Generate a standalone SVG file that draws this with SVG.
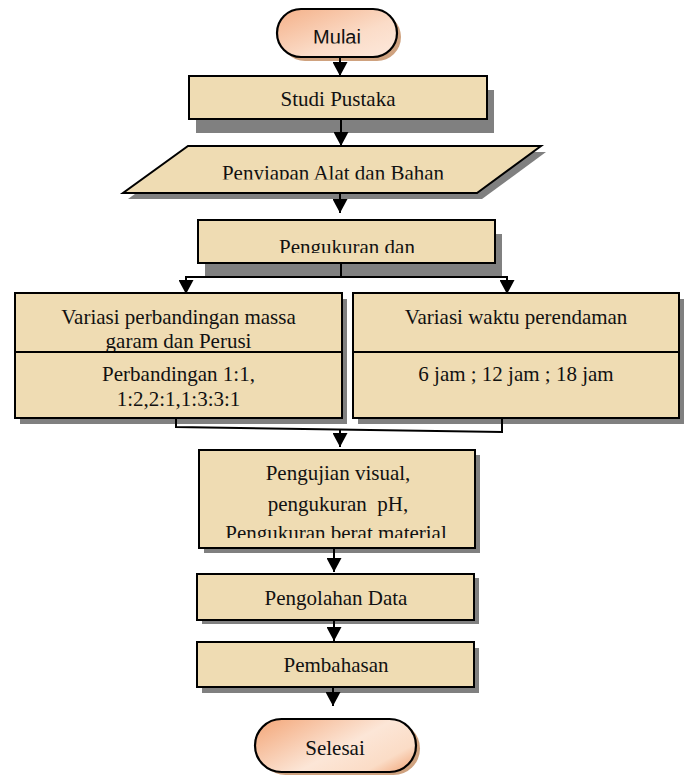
<svg xmlns="http://www.w3.org/2000/svg" width="686" height="776" viewBox="0 0 686 776">
<style>
.box{fill:#efdcb3;stroke:#000;stroke-width:2}
.sh{fill:#808080}
.tsh{fill:#cfa27f}
.term{stroke:#000;stroke-width:2.2}
.t{font-family:"Liberation Serif","Times New Roman",serif;font-size:21px;text-anchor:middle;fill:#111}
.s{font-family:"Liberation Sans",Arial,sans-serif;font-size:20px;text-anchor:middle;fill:#111}
.ln{stroke:#000;stroke-width:2;fill:none}
.div{stroke:#000;stroke-width:2}
</style>
<defs>
<marker id="arr" viewBox="0 0 14 15" refX="14" refY="7.5" markerWidth="15" markerHeight="15" markerUnits="userSpaceOnUse" orient="auto">
<path d="M0,0 L14,7.5 L0,15 z" fill="#000"/>
</marker>
<linearGradient id="g1" x1="0" y1="0" x2="1" y2="1">
<stop offset="0" stop-color="#f4b088"/>
<stop offset="0.6" stop-color="#fbdcc8"/>
<stop offset="1" stop-color="#fde9dc"/>
</linearGradient>
<linearGradient id="g2" x1="0" y1="0.2" x2="1" y2="0.8">
<stop offset="0" stop-color="#f4ae84"/>
<stop offset="0.55" stop-color="#fce6d7"/>
<stop offset="0.85" stop-color="#fbdcc6"/>
<stop offset="1" stop-color="#f4b690"/>
</linearGradient>
<clipPath id="c1"><rect x="0" y="0" width="686" height="43.5"/></clipPath>
<clipPath id="c2"><rect x="0" y="140" width="686" height="39.5"/></clipPath>
<clipPath id="c3"><rect x="0" y="220" width="686" height="33"/></clipPath>
<clipPath id="c4"><rect x="0" y="450" width="686" height="88"/></clipPath>
</defs>

<g id="mulai">
<rect class="tsh" x="281" y="13" width="120" height="48" rx="24"/>
<rect class="term" x="277" y="9" width="120" height="48" rx="24" fill="url(#g1)"/>
<text class="s" x="337" y="44" clip-path="url(#c1)">Mulai</text>
</g>

<g id="studi">
<rect class="sh" x="196" y="90" width="298" height="43"/>
<rect class="box" x="189" y="76" width="298" height="43"/>
<text class="t" x="338" y="106">Studi Pustaka</text>
</g>

<g id="penyiapan">
<polygon class="sh" points="193,152 546,152 482,199 128,199"/>
<polygon class="box" points="188,146 541,146 477,193 123,193"/>
<text class="t" x="333" y="180" clip-path="url(#c2)">Penyiapan Alat dan Bahan</text>
</g>

<g id="pengukuran">
<rect class="sh" x="205" y="234" width="297" height="43"/>
<rect class="box" x="198" y="220" width="297" height="43"/>
<text class="t" x="347" y="253.5" clip-path="url(#c3)">Pengukuran dan</text>
</g>

<g id="variasi-massa">
<rect class="sh" x="20" y="299" width="327" height="125"/>
<rect class="box" x="15" y="293" width="327" height="125"/>
<text class="t" x="178.5" y="324">Variasi perbandingan massa</text>
<text class="t" x="178.5" y="348">garam dan Perusi</text>
<line class="div" x1="15" y1="352" x2="342" y2="352"/>
<text class="t" x="178.5" y="381">Perbandingan 1:1,</text>
<text class="t" x="178.5" y="406">1:2,2:1,1:3:3:1</text>
</g>

<g id="variasi-waktu">
<rect class="sh" x="358" y="299" width="326" height="125"/>
<rect class="box" x="353" y="293" width="326" height="125"/>
<text class="t" x="516" y="324">Variasi waktu perendaman</text>
<line class="div" x1="353" y1="352" x2="679" y2="352"/>
<text class="t" x="516" y="381">6 jam ; 12 jam ; 18 jam</text>
</g>

<g id="pengujian">
<rect class="sh" x="204" y="455" width="276" height="98"/>
<rect class="box" x="199" y="450" width="276" height="98"/>
<text class="t" x="338" y="480">Pengujian visual,</text>
<text class="t" x="338" y="511" xml:space="preserve">pengukuran  pH,</text>
<text class="t" x="336" y="540" clip-path="url(#c4)">Pengukuran berat material</text>
</g>

<g id="pengolahan">
<rect class="sh" x="202" y="578" width="277" height="46"/>
<rect class="box" x="197" y="574" width="277" height="46"/>
<text class="t" x="336" y="605">Pengolahan Data</text>
</g>

<g id="pembahasan">
<rect class="sh" x="202" y="648" width="277" height="45"/>
<rect class="box" x="197" y="642" width="277" height="45"/>
<text class="t" x="336" y="672">Pembahasan</text>
</g>

<g id="selesai">
<rect class="tsh" x="259" y="722" width="161" height="53" rx="26.5"/>
<rect class="term" x="255" y="719" width="161" height="53" rx="26.5" fill="url(#g2)"/>
<text class="t" x="335" y="755">Selesai</text>
</g>

<g id="connectors">
<line class="ln" x1="340" y1="57" x2="340" y2="76" marker-end="url(#arr)"/>
<line class="ln" x1="341" y1="119" x2="341" y2="146" marker-end="url(#arr)"/>
<line class="ln" x1="340" y1="193" x2="340" y2="213" marker-end="url(#arr)"/>
<line class="ln" x1="341" y1="263" x2="341" y2="277"/>
<polyline class="ln" points="341,277 186,277 186,294" marker-end="url(#arr)"/>
<polyline class="ln" points="341,277 507,277 507,294" marker-end="url(#arr)"/>
<polyline class="ln" points="176,418 176,427 502,432 502,418"/>
<line class="ln" x1="340" y1="429" x2="340" y2="447" marker-end="url(#arr)"/>
<line class="ln" x1="334" y1="548" x2="334" y2="572" marker-end="url(#arr)"/>
<line class="ln" x1="334" y1="620" x2="334" y2="641" marker-end="url(#arr)"/>
<line class="ln" x1="333" y1="687" x2="333" y2="706" marker-end="url(#arr)"/>
</g>
</svg>
